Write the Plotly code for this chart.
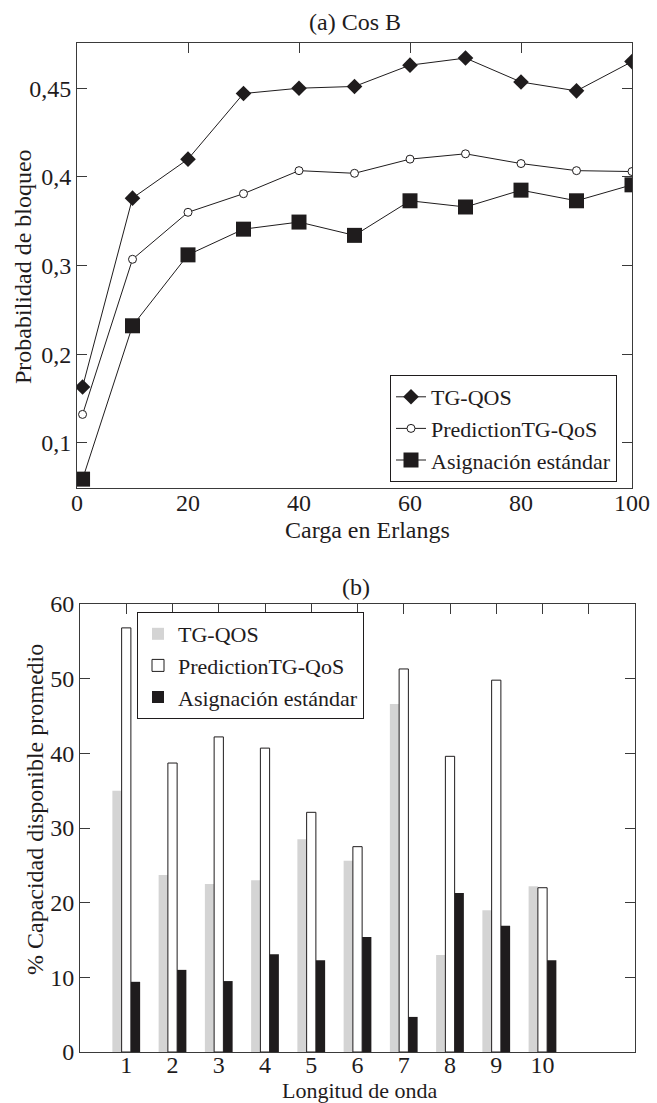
import plotly.graph_objects as go

# ---- Data: chart (a) ----
carga = [1, 10, 20, 30, 40, 50, 60, 70, 80, 90, 100]
tg_qos = [0.163, 0.376, 0.420, 0.494, 0.500, 0.502, 0.526, 0.534, 0.507, 0.497, 0.530]
pred_qos = [0.132, 0.307, 0.360, 0.381, 0.407, 0.404, 0.420, 0.426, 0.415, 0.407, 0.406]
asig_std = [0.059, 0.232, 0.312, 0.341, 0.349, 0.334, 0.373, 0.366, 0.385, 0.373, 0.391]
x_ticks_a = [0, 20, 40, 60, 80, 100]
y_tickvals_a = [0.1, 0.2, 0.3, 0.4, 0.5]
y_ticktext_a = ["0,1", "0,2", "0,3", "0,4", "0,45"]

# ---- Data: chart (b) ----
longitud = [1, 2, 3, 4, 5, 6, 7, 8, 9, 10]
bar_tg = [35.0, 23.7, 22.5, 23.0, 28.5, 25.6, 46.6, 13.0, 19.0, 22.2]
bar_pred = [56.8, 38.7, 42.2, 40.7, 32.1, 27.5, 51.3, 39.6, 49.8, 22.0]
bar_asig = [9.4, 11.0, 9.5, 13.1, 12.3, 15.4, 4.7, 21.3, 16.9, 12.3]

names = ["TG-QOS", "PredictionTG-QoS", "Asignación estándar"]

W, H = 657, 1103
FONT = "Liberation Serif, Times New Roman, serif"
FS = 24
LFS = 22
AX = "#3a3a3a"
INK = "#1f1c1d"

fig = go.Figure()

# chart (a) lines
fig.add_trace(go.Scatter(x=carga, y=tg_qos, name=names[0], mode="lines+markers",
                         line=dict(color=INK, width=1),
                         marker=dict(symbol="diamond", size=12, color=INK),
                         xaxis="x", yaxis="y", legend="legend"))
fig.add_trace(go.Scatter(x=carga, y=pred_qos, name=names[1], mode="lines+markers",
                         line=dict(color=INK, width=1),
                         marker=dict(symbol="circle", size=8, color="white",
                                     line=dict(color=INK, width=1)),
                         xaxis="x", yaxis="y", legend="legend"))
fig.add_trace(go.Scatter(x=carga, y=asig_std, name=names[2], mode="lines+markers",
                         line=dict(color=INK, width=1),
                         marker=dict(symbol="square", size=15, color=INK),
                         xaxis="x", yaxis="y", legend="legend"))

# chart (b) bars
fig.add_trace(go.Bar(x=longitud, y=bar_tg, name=names[0],
                     marker=dict(color="#d4d4d4", line=dict(width=0)),
                     xaxis="x2", yaxis="y2", legend="legend2"))
fig.add_trace(go.Bar(x=longitud, y=bar_pred, name=names[1],
                     marker=dict(color="white", line=dict(color=INK, width=1)),
                     xaxis="x2", yaxis="y2", legend="legend2"))
fig.add_trace(go.Bar(x=longitud, y=bar_asig, name=names[2],
                     marker=dict(color=INK, line=dict(width=0)),
                     xaxis="x2", yaxis="y2", legend="legend2"))

# empty traces to realize top tick axes
fig.add_trace(go.Scatter(x=[], y=[], xaxis="x3", yaxis="y", showlegend=False, hoverinfo="skip"))
fig.add_trace(go.Scatter(x=[], y=[], xaxis="x4", yaxis="y2", showlegend=False, hoverinfo="skip"))


def px_x(p):
    return p / W


def px_y(p):
    return 1 - p / H


dom_x1 = [px_x(77), px_x(632)]
dom_y1 = [px_y(488), px_y(43)]
dom_x2 = [px_x(80), px_x(635)]
dom_y2 = [px_y(1052), px_y(604)]

tickfont = dict(family=FONT, size=FS, color=INK)
titlefont = dict(family=FONT, size=FS, color=INK)
legfont = dict(family=FONT, size=LFS, color=INK)

fig.update_layout(
    width=W, height=H,
    margin=dict(l=0, r=0, t=0, b=0),
    paper_bgcolor="white", plot_bgcolor="white",
    font=dict(family=FONT, size=FS, color=INK),
    barmode="group", bargap=0.4, bargroupgap=0,
    showlegend=True,
    xaxis=dict(domain=dom_x1, anchor="y", range=[0, 100], tickvals=x_ticks_a,
               ticks="", showline=True, linecolor=AX, linewidth=1, mirror=True,
               showgrid=False, zeroline=False, tickfont=tickfont, automargin=False,
               ticklabelstandoff=-7),
    yaxis=dict(domain=dom_y1, anchor="x", range=[0.049, 0.551], tickvals=y_tickvals_a,
               ticktext=y_ticktext_a, ticks="inside", ticklen=10, tickcolor=AX,
               showline=True, linecolor=AX, linewidth=1, mirror="ticks",
               showgrid=False, zeroline=False, tickfont=tickfont, automargin=False),
    xaxis3=dict(overlaying="x", anchor="y", side="top", range=[0, 100],
                tickvals=x_ticks_a[1:-1], ticks="inside", ticklen=10, tickcolor=AX,
                showticklabels=False, showline=False, showgrid=False, zeroline=False,
                automargin=False),
    xaxis2=dict(domain=dom_x2, anchor="y2", range=[0, 12], tickvals=longitud,
                ticks="", showline=True, linecolor=AX, linewidth=1, mirror=True,
                showgrid=False, zeroline=False, tickfont=tickfont, automargin=False,
                ticklabelstandoff=-9),
    yaxis2=dict(domain=dom_y2, anchor="x2", range=[0, 60], dtick=10,
                ticks="inside", ticklen=10, tickcolor=AX,
                showline=True, linecolor=AX, linewidth=1, mirror="ticks",
                showgrid=False, zeroline=False, tickfont=tickfont, automargin=False),
    xaxis4=dict(overlaying="x2", anchor="y2", side="top", range=[0, 12],
                tickvals=list(range(1, 12)), ticks="inside", ticklen=10, tickcolor=AX,
                showticklabels=False, showline=False, showgrid=False, zeroline=False,
                automargin=False),
    legend=dict(x=px_x(617), y=px_y(482), xanchor="right", yanchor="bottom",
                bordercolor=INK, borderwidth=1, bgcolor="white",
                font=legfont, tracegroupgap=0),
    legend2=dict(x=px_x(137), y=px_y(612), xanchor="left", yanchor="top",
                 bordercolor=INK, borderwidth=1, bgcolor="white",
                 font=legfont, tracegroupgap=0),
    annotations=[
        dict(text="(a) Cos B", x=px_x(355), y=px_y(22), xref="paper", yref="paper",
             showarrow=False, font=titlefont, xanchor="center", yanchor="middle"),
        dict(text="(b)", x=px_x(356), y=px_y(587), xref="paper", yref="paper",
             showarrow=False, font=titlefont, xanchor="center", yanchor="middle"),
        dict(text="Carga en Erlangs", x=px_x(367), y=px_y(530), xref="paper", yref="paper",
             showarrow=False, font=titlefont, xanchor="center", yanchor="middle"),
        dict(text="Longitud de onda", x=px_x(359), y=px_y(1090), xref="paper", yref="paper",
             showarrow=False, font=dict(family=FONT, size=22, color=INK),
             xanchor="center", yanchor="middle"),
        dict(text="Probabilidad de bloqueo", x=px_x(23), y=px_y(267), xref="paper",
             yref="paper", showarrow=False, font=titlefont, textangle=-90,
             xanchor="center", yanchor="middle"),
        dict(text="% Capacidad disponible promedio", x=px_x(35), y=px_y(810), xref="paper",
             yref="paper", showarrow=False, font=titlefont, textangle=-90,
             xanchor="center", yanchor="middle"),
    ],
)

fig.write_html("out.html",
               config={"displayModeBar": False},
               post_script="document.body.style.margin='0';document.body.style.overflow='hidden';")
